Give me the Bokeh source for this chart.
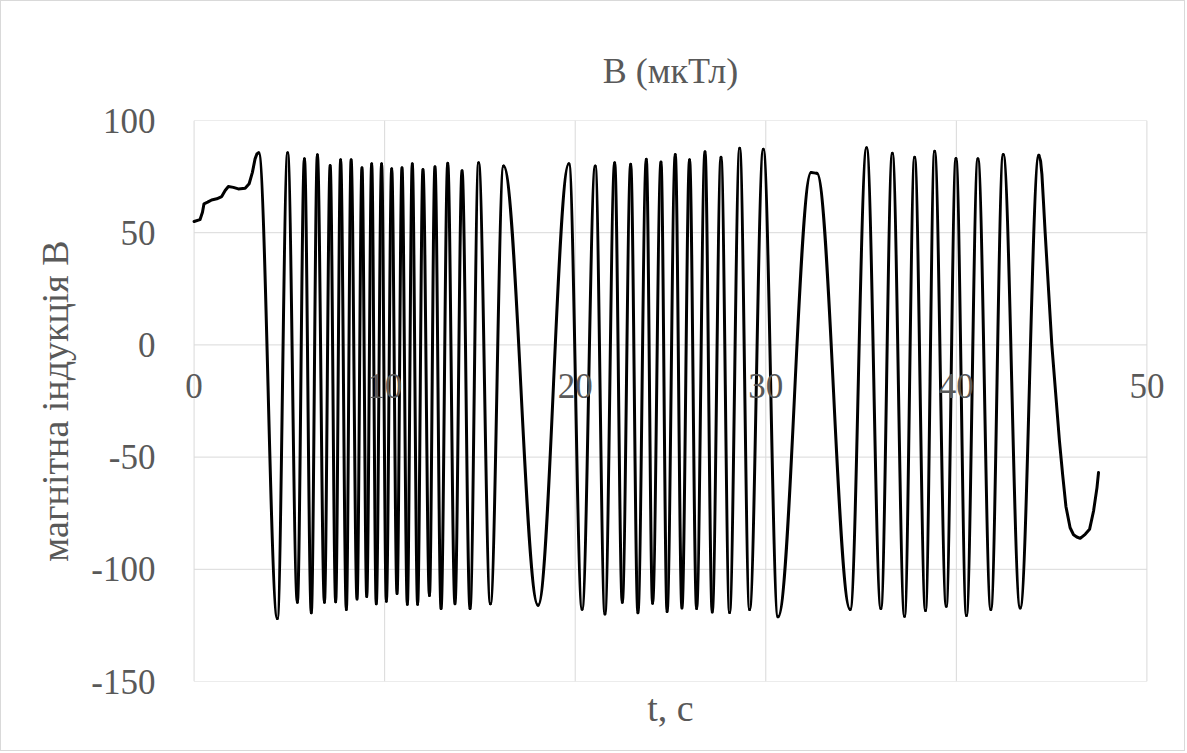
from bokeh.plotting import figure
from bokeh.models import Range1d, FixedTicker, Title, ColumnDataSource, LabelSet
from bokeh.core.properties import value
from bokeh.embed import file_html
from bokeh.resources import INLINE

# ---------------- data ----------------
title_text = "В (мкТл)"
x_title = "t, c"
y_title = "магнітна індукція В"

x_ticks = [0, 10, 20, 30, 40, 50]
x_tick_labels = ["0", "10", "20", "30", "40", "50"]
y_ticks = [-150, -100, -50, 0, 50, 100]
y_tick_labels = ["-150", "-100", "-50", "0", "50", "100"]

# slow drift at the start of the record
start_t = [0.0, 0.31, 0.44, 0.52, 0.71, 0.92, 1.19, 1.45, 1.63, 1.80, 2.06, 2.32,
           2.68, 2.89, 3.06, 3.20, 3.30, 3.39]
start_v = [55.0, 55.8, 59.1, 62.9, 63.6, 64.6, 65.1, 66.1, 68.8, 70.6, 70.2, 69.5,
           69.8, 71.8, 76.9, 82.9, 85.2, 85.6]

# maxima of the oscillation
peak_t = [3.39, 4.91, 5.79, 6.47, 7.14, 7.69, 8.24, 8.81, 9.32, 9.84, 10.37, 10.91,
          11.45, 12.01, 12.64, 13.31, 14.06, 14.93, 16.24, 19.67, 21.05, 22.07, 22.91,
          23.73, 24.50, 25.25, 26.00, 26.81, 27.65, 28.63, 29.87, 32.38, 32.68, 35.29,
          36.64, 37.81, 38.86, 39.98, 41.13, 42.46, 44.33]
peak_v = [85.6, 85.6, 83.0, 84.7, 80.0, 82.5, 82.5, 78.9, 80.7, 80.7, 78.5, 78.9,
          80.7, 78.2, 79.4, 80.9, 77.6, 81.2, 79.7, 80.7, 79.7, 81.2, 80.5,
          82.7, 81.5, 84.9, 82.5, 86.1, 83.6, 87.6, 87.2, 76.8, 76.5, 87.9,
          85.4, 83.6, 86.3, 83.1, 83.0, 84.9, 84.5]

# minima of the oscillation
trough_t = [4.37, 5.42, 6.15, 6.84, 7.43, 7.99, 8.55, 9.06, 9.56, 10.09, 10.65, 11.19,
            11.73, 12.35, 12.96, 13.69, 14.48, 15.55, 18.05, 20.36, 21.56, 22.47, 23.29,
            24.06, 24.82, 25.60, 26.37, 27.19, 28.10, 29.15, 30.64, 34.43, 36.04, 37.28,
            38.38, 39.47, 40.53, 41.81, 43.35]
trough_v = [-121.9, -114.7, -119.4, -114.7, -114.5, -117.9, -113.2, -112.1, -115.4,
            -114.2, -110.8, -115.6, -115.6, -111.7, -117.5, -115.3, -117.5, -115.4,
            -116.0, -117.8, -119.9, -114.7, -119.4, -115.1, -118.8, -117.2, -117.5,
            -119.0, -119.3, -117.9, -121.2, -117.9, -117.5, -120.9, -118.4, -116.5,
            -120.6, -117.9, -117.2]

# last, decaying part of the record
tail_t = [44.33, 44.42, 44.49, 44.57, 44.66, 45.01, 45.41, 45.58, 45.75, 45.97, 46.15,
          46.32, 46.50, 46.76, 46.99, 47.20, 47.38, 47.46]
tail_v = [84.5, 82.0, 76.0, 64.0, 50.0, 0.0, -42.8, -58.0, -72.0, -81.5, -84.6,
          -85.6, -86.2, -84.4, -82.2, -74.0, -63.6, -56.9]

# ---------------- figure ----------------
FONT = "Liberation Serif"
TXT = "#595959"
GRID = "#d9d9d9"
X_MIN, X_MAX = x_ticks[0], x_ticks[-1]
Y_MIN, Y_MAX = y_ticks[0], y_ticks[-1]

# the frame is a little wider than the data area so that the
# tick labels under the zero line are not clipped at its edges
p = figure(width=1185, height=751, output_backend="svg", toolbar_location=None,
           x_range=Range1d(X_MIN - 1.5, X_MAX + 1.5), y_range=Range1d(Y_MIN, Y_MAX),
           min_border_left=164, min_border_right=11, min_border_top=119,
           min_border_bottom=71, outline_line_color=None,
           background_fill_color="white", border_fill_color="white",
           styles={"border": "1px solid #d9d9d9"})

p.title.text = title_text
p.title.align = "center"
p.title.text_font = FONT
p.title.text_font_size = "36px"
p.title.text_font_style = "normal"
p.title.text_color = TXT
p.title.standoff = 60

p.add_layout(Title(text=x_title, align="center", text_font=FONT,
                   text_font_size="38px", text_font_style="normal",
                   text_color=TXT, standoff=6), "below")

p.xaxis.visible = False
p.xgrid.visible = False
p.ygrid.visible = False

p.yaxis.ticker = FixedTicker(ticks=y_ticks)
p.yaxis.major_label_overrides = dict(zip(y_ticks, y_tick_labels))
p.yaxis.axis_line_color = None
p.yaxis.major_tick_line_color = None
p.yaxis.minor_tick_line_color = None
p.yaxis.major_label_standoff = 4
p.yaxis.major_label_text_font = FONT
p.yaxis.major_label_text_font_size = "35px"
p.yaxis.major_label_text_color = TXT
p.yaxis.axis_label = y_title
p.yaxis.axis_label_text_font = FONT
p.yaxis.axis_label_text_font_size = "38px"
p.yaxis.axis_label_text_font_style = "normal"
p.yaxis.axis_label_text_color = TXT
p.yaxis.axis_label_standoff = 12

# grid lines limited to the data area
p.segment(x0=[X_MIN] * len(y_ticks), x1=[X_MAX] * len(y_ticks), y0=y_ticks, y1=y_ticks,
          line_color=GRID, line_width=1)
p.segment(x0=x_ticks, x1=x_ticks, y0=[Y_MIN] * len(x_ticks), y1=[Y_MAX] * len(x_ticks),
          line_color=GRID, line_width=1)

LW = 3
# start segment
p.line(start_t, start_v, line_color="black", line_width=LW,
       line_join="round", line_cap="round")

# oscillation: smooth half-waves between successive extrema
ext = sorted(list(zip(peak_t, peak_v)) + list(zip(trough_t, trough_v)))
a = 1 - 2 / 3.141592653589793
x0, y0, x1, y1, cx0, cy0, cx1, cy1 = [], [], [], [], [], [], [], []
for (ta, va), (tb, vb) in zip(ext[:-1], ext[1:]):
    d = tb - ta
    x0.append(ta); y0.append(va); x1.append(tb); y1.append(vb)
    cx0.append(ta + a * d); cy0.append(va)
    cx1.append(tb - a * d); cy1.append(vb)
src = ColumnDataSource(dict(x0=x0, y0=y0, x1=x1, y1=y1,
                            cx0=cx0, cy0=cy0, cx1=cx1, cy1=cy1))
p.bezier(x0="x0", y0="y0", x1="x1", y1="y1", cx0="cx0", cy0="cy0",
         cx1="cx1", cy1="cy1", source=src, line_color="black",
         line_width=LW, line_cap="round")

# tail segment
p.line(tail_t, tail_v, line_color="black", line_width=LW,
       line_join="round", line_cap="round")

# x tick labels sit just under the zero line, as in the original
xlab_src = ColumnDataSource(dict(x=x_ticks, y=[0] * len(x_ticks), text=x_tick_labels))
p.add_layout(LabelSet(x="x", y="y", text="text", source=xlab_src, y_offset=-41,
                      text_align="center", text_baseline="middle",
                      text_font=value(FONT), text_font_size=value("35px"),
                      text_color=TXT, level="overlay"))

open("out.html", "w").write(file_html(p, INLINE))
